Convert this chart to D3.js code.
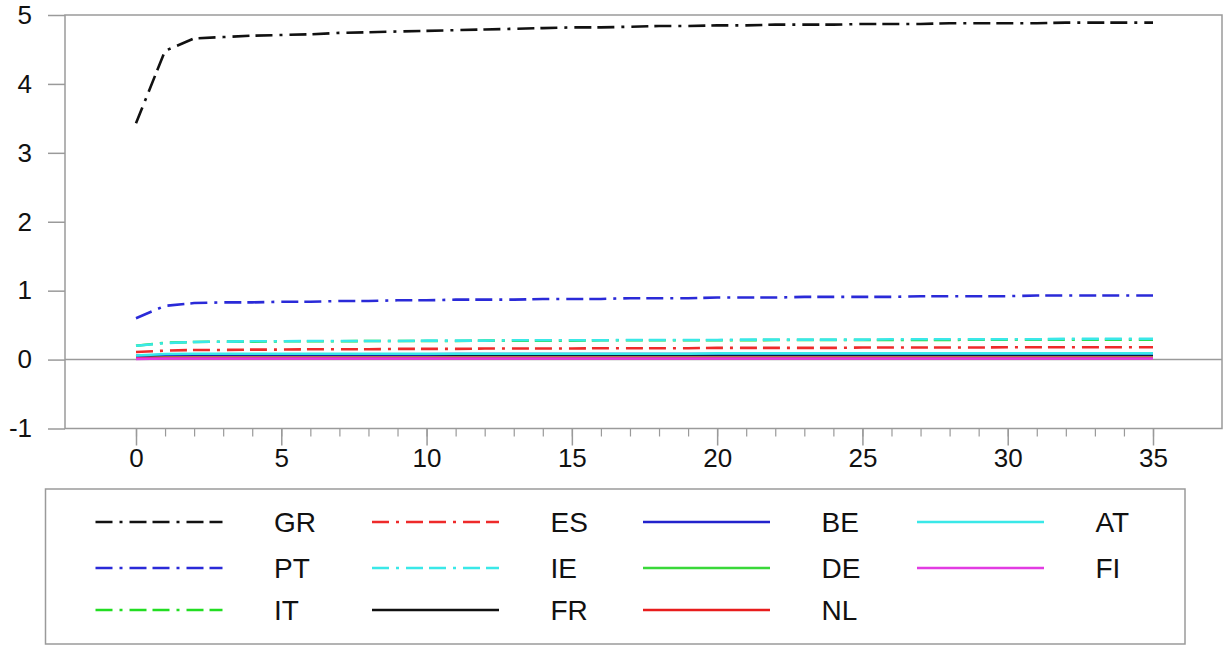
<!DOCTYPE html>
<html>
<head>
<meta charset="utf-8">
<script src="https://cdn.jsdelivr.net/npm/d3@7"></script>
<style>
  html, body { margin: 0; padding: 0; background: #fff; }
  svg { display: block; }
  text { font-family: "Liberation Sans", Arial, sans-serif; fill: #111; }
</style>
</head>
<body>
<svg id="chart" width="1225" height="646"></svg>
<script>
// ---- data ----
const periods = [0,1,2,3,4,5,6,7,8,9,10,11,12,13,14,15,16,17,18,19,20,21,22,23,24,25,26,27,28,29,30,31,32,33,34,35];
const GR = [3.43,4.48,4.66,4.68,4.70,4.71,4.72,4.74,4.75,4.76,4.77,4.78,4.79,4.80,4.81,4.82,4.82,4.83,4.84,4.84,4.85,4.85,4.86,4.86,4.86,4.87,4.87,4.87,4.88,4.88,4.88,4.88,4.89,4.89,4.89,4.89];
const PT = [0.60,0.78,0.82,0.83,0.83,0.84,0.84,0.85,0.85,0.86,0.86,0.87,0.87,0.87,0.88,0.88,0.88,0.89,0.89,0.89,0.90,0.90,0.90,0.91,0.91,0.91,0.91,0.92,0.92,0.92,0.92,0.93,0.93,0.93,0.93,0.93];
const IT = [0.20,0.245,0.255,0.26,0.26,0.265,0.265,0.265,0.27,0.27,0.27,0.27,0.275,0.275,0.275,0.275,0.28,0.28,0.28,0.28,0.28,0.28,0.285,0.285,0.285,0.285,0.285,0.285,0.285,0.29,0.29,0.29,0.29,0.29,0.29,0.29];
const ES = [0.11,0.13,0.14,0.14,0.145,0.145,0.15,0.15,0.15,0.155,0.155,0.155,0.16,0.16,0.16,0.16,0.165,0.165,0.165,0.165,0.17,0.17,0.17,0.17,0.17,0.175,0.175,0.175,0.175,0.175,0.18,0.18,0.18,0.18,0.18,0.18];
const IE = [0.20,0.24,0.255,0.26,0.265,0.265,0.27,0.27,0.27,0.27,0.275,0.275,0.275,0.28,0.28,0.28,0.28,0.285,0.285,0.285,0.285,0.29,0.29,0.29,0.29,0.29,0.295,0.295,0.295,0.295,0.295,0.295,0.30,0.30,0.30,0.30];
const FR = [0.05,0.065,0.07,0.07,0.07,0.07,0.07,0.07,0.07,0.07,0.07,0.07,0.07,0.07,0.07,0.07,0.07,0.07,0.07,0.07,0.07,0.07,0.07,0.07,0.07,0.07,0.07,0.07,0.07,0.07,0.07,0.07,0.07,0.07,0.07,0.07];
const BE = [0.05,0.07,0.075,0.075,0.075,0.075,0.075,0.075,0.075,0.075,0.075,0.08,0.08,0.08,0.08,0.08,0.08,0.08,0.08,0.08,0.08,0.08,0.08,0.08,0.08,0.08,0.08,0.08,0.08,0.08,0.08,0.08,0.08,0.08,0.08,0.08];
const DE = [0.02,0.03,0.03,0.03,0.03,0.03,0.03,0.03,0.03,0.03,0.03,0.03,0.03,0.03,0.03,0.03,0.03,0.03,0.03,0.03,0.03,0.03,0.03,0.03,0.03,0.03,0.03,0.03,0.03,0.03,0.03,0.03,0.03,0.03,0.03,0.03];
const NL = [0.02,0.025,0.025,0.025,0.025,0.025,0.025,0.025,0.025,0.025,0.025,0.025,0.025,0.025,0.025,0.025,0.025,0.025,0.025,0.025,0.025,0.025,0.025,0.025,0.025,0.025,0.025,0.025,0.025,0.025,0.025,0.025,0.025,0.025,0.025,0.025];
const AT = [0.06,0.08,0.085,0.085,0.085,0.085,0.085,0.085,0.085,0.085,0.085,0.085,0.085,0.085,0.085,0.085,0.085,0.085,0.085,0.085,0.09,0.09,0.09,0.09,0.09,0.09,0.09,0.09,0.09,0.09,0.09,0.09,0.09,0.09,0.09,0.09];
const FI = [0.01,0.015,0.015,0.015,0.015,0.015,0.015,0.015,0.015,0.015,0.015,0.015,0.015,0.015,0.015,0.015,0.015,0.015,0.015,0.015,0.015,0.015,0.015,0.015,0.015,0.015,0.015,0.015,0.015,0.015,0.015,0.015,0.015,0.015,0.015,0.015];

const seriesNames = ["GR","PT","IT","ES","IE","FR","BE","DE","NL","AT","FI"];
const seriesValues = [GR,PT,IT,ES,IE,FR,BE,DE,NL,AT,FI];
const seriesColors = ["#111111","#2a2ad8","#22dd22","#ee2a2a","#3ae8e8","#111111","#2222cc","#3ad83a","#e81c1c","#3ae8e8","#e23ce2"];
const seriesDashed = [true,true,true,true,true,false,false,false,false,false,false];

const xTickLabels = [0,5,10,15,20,25,30,35];
const yTickLabels = [-1,0,1,2,3,4,5];

// ---- layout ----
const svg = d3.select("#chart");
const frame = {left: 65, right: 1222, top: 15, bottom: 428.5};
const x = d3.scaleLinear().domain([0, 35]).range([136, 1153]);
const y = d3.scaleLinear().domain([-1, 5]).range([frame.bottom, frame.top]);
const grey = "#9a9a9a";
const dashPattern = "17,7,3,7,17,6";
const fmt = d => String(d); // plain hyphen-minus, as in the original

// frame
svg.append("rect")
  .attr("x", frame.left).attr("y", frame.top)
  .attr("width", frame.right - frame.left).attr("height", frame.bottom - frame.top)
  .attr("fill", "none").attr("stroke", grey).attr("stroke-width", 1.5);

// zero line
svg.append("line")
  .attr("x1", frame.left).attr("x2", frame.right)
  .attr("y1", y(0)).attr("y2", y(0))
  .attr("stroke", grey).attr("stroke-width", 1.5);

// y axis
const yAxis = svg.append("g").attr("transform", `translate(${frame.left},0)`)
  .call(d3.axisLeft(y).tickValues(yTickLabels).tickSize(17).tickPadding(16).tickFormat(fmt));
yAxis.select(".domain").remove();
yAxis.selectAll("line").attr("stroke", grey).attr("stroke-width", 1.5);
yAxis.selectAll("text").style("font-size", "26px").attr("fill", "#111")
  .style("font-family", '"Liberation Sans", Arial, sans-serif');

// x axis minor
const xMinor = svg.append("g").attr("transform", `translate(0,${frame.bottom})`)
  .call(d3.axisBottom(x).tickValues(periods).tickSize(8).tickFormat(""));
xMinor.select(".domain").remove();
xMinor.selectAll("line").attr("stroke", grey).attr("stroke-width", 1.2);

// x axis major
const xAxis = svg.append("g").attr("transform", `translate(0,${frame.bottom})`)
  .call(d3.axisBottom(x).tickValues(xTickLabels).tickSize(17).tickPadding(3).tickFormat(fmt));
xAxis.select(".domain").remove();
xAxis.selectAll("line").attr("stroke", grey).attr("stroke-width", 1.5);
xAxis.selectAll("text").style("font-size", "26px").attr("fill", "#111")
  .style("font-family", '"Liberation Sans", Arial, sans-serif');

// lines
const line = d3.line().x((d, i) => x(periods[i])).y(d => y(d));
seriesNames.forEach((name, i) => {
  svg.append("path")
    .datum(seriesValues[i])
    .attr("d", line)
    .attr("fill", "none")
    .attr("stroke", seriesColors[i])
    .attr("stroke-width", 2.6)
    .attr("stroke-dasharray", seriesDashed[i] ? dashPattern : null);
});

// legend
const legend = svg.append("g");
legend.append("rect")
  .attr("x", 45.5).attr("y", 489).attr("width", 1185 - 45.5).attr("height", 644 - 489)
  .attr("fill", "#fff").attr("stroke", grey).attr("stroke-width", 1.5);
const colX = [95.5, 372, 643, 917];
const rowY = [522, 568, 610];
seriesNames.forEach((name, i) => {
  const c = Math.floor(i / 3), r = i % 3;
  const g = legend.append("g");
  g.append("line")
    .attr("x1", colX[c]).attr("x2", colX[c] + 127)
    .attr("y1", rowY[r]).attr("y2", rowY[r])
    .attr("stroke", seriesColors[i]).attr("stroke-width", 2.4)
    .attr("stroke-dasharray", seriesDashed[i] ? dashPattern : null);
  g.append("text")
    .attr("x", colX[c] + 178.5).attr("y", rowY[r])
    .attr("dy", "0.36em")
    .style("font-size", "28px")
    .text(name);
});
</script>
</body>
</html>
